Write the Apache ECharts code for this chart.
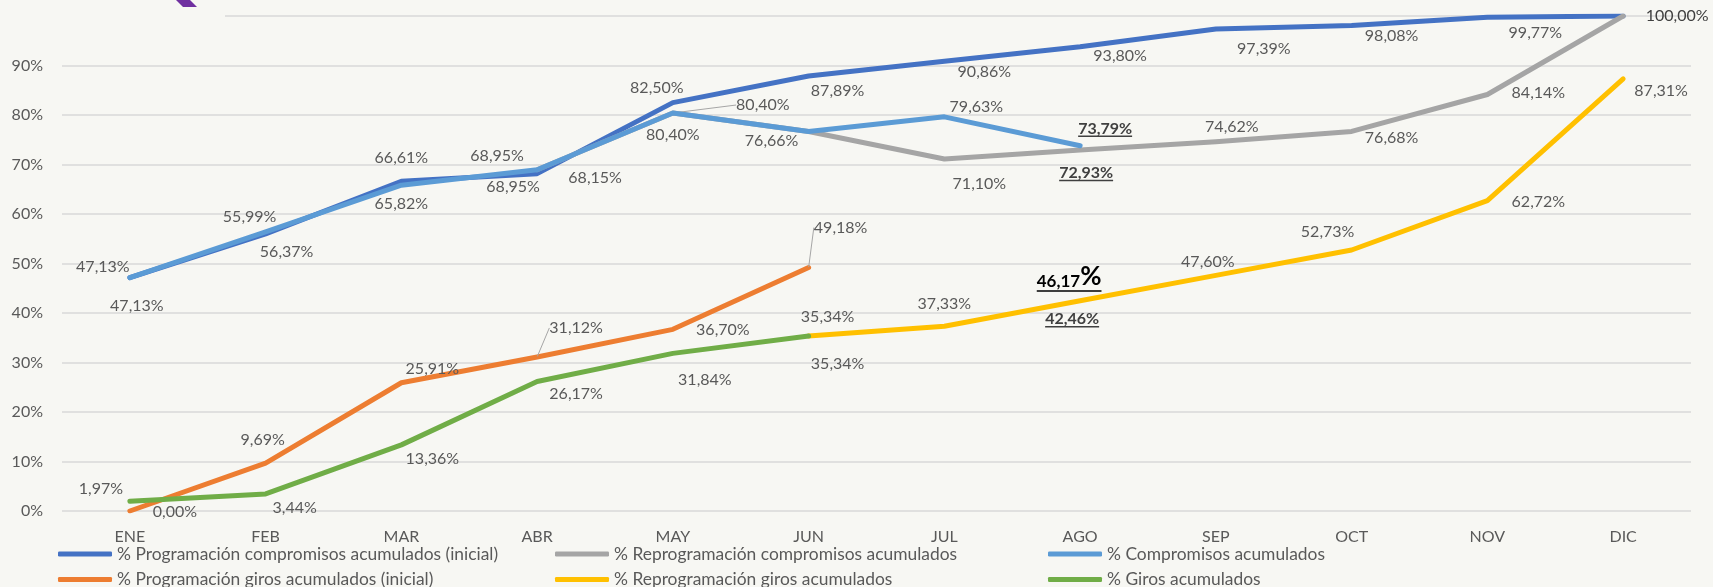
<!DOCTYPE html>
<html><head><meta charset="utf-8">
<script src="https://cdn.jsdelivr.net/npm/echarts@6/dist/echarts.min.js"></script>
<style>html,body{margin:0;padding:0;background:#F7F7F3}#c{width:1713px;height:587px}</style>
</head><body><div id="c"></div>
<script>
// ---------- DATA ----------
const months = ['ENE','FEB','MAR','ABR','MAY','JUN','JUL','AGO','SEP','OCT','NOV','DIC'];
const seriesNames = [
  '% Programación compromisos acumulados (inicial)',
  '% Reprogramación compromisos acumulados',
  '% Compromisos acumulados',
  '% Programación giros acumulados (inicial)',
  '% Reprogramación giros acumulados',
  '% Giros acumulados'
];
const progCompromisos   = [47.13, 55.99, 66.61, 68.15, 82.50, 87.89, 90.86, 93.80, 97.39, 98.08, 99.77, 100.00];
const reprogCompromisos = [null, null, null, 68.95, 80.40, 76.66, 71.10, 72.93, 74.62, 76.68, 84.14, 100.00];
const compromisos       = [47.13, 56.37, 65.82, 68.95, 80.40, 76.66, 79.63, 73.79, null, null, null, null];
const progGiros         = [0.00, 9.69, 25.91, 31.12, 36.70, 49.18, null, null, null, null, null, null];
const reprogGiros       = [null, null, null, null, null, 35.34, 37.33, 42.46, 47.60, 52.73, 62.72, 87.31];
const giros             = [1.97, 3.44, 13.36, 26.17, 31.84, 35.34, null, null, null, null, null, null];
const annotationMonth = 'AGO';
const annotationValue = 46.17;
const yMin = 0, yMax = 100, yStep = 10;

// ---------- LABEL PLACEMENT (style, offsets of label centre from point) ----------
const labelOffsets = [
  [[-27,-11],[-16,-17],[0,-23],[58,4],[-16,-15],[29,15],[40,11],[40,9],[48,20],[40,10.5],[48,16],null],
  [null,null,null,[-24,17],[90,-8],null,[35,25],[6,23],[16,-15],[40,6],[51,-2],[54,0]],
  [[7,28],[21,20],[0,19],[-40,-14],[0,22],[-37,9],[32,-9.5],[25,-17],null,null,null,null],
  [[45,1],[-3,-23],[31,-14],[39,-29],[50,1],[32,-40],null,null,null,null,null,null],
  [null,null,null,null,null,[19,-19],[0,-22],[-8,18.5],[-8,-14],[-24,-18],[51,1],[38,12]],
  [[-29,-12],[29,14],[31,14],[39,12],[32,26],[29,28],null,null,null,null,null,null]
];
const boldLabels = {1:[7], 2:[7], 4:[7]};
const leaderLabels = {1:[4], 3:[3,5]};
const darkLabels = {1:[11]};
const colors = ['#4472C4','#A5A5A5','#5B9BD5','#ED7D31','#FFC000','#70AD47'];
const allValues = [progCompromisos, reprogCompromisos, compromisos, progGiros, reprogGiros, giros];

const FONT = 'Lato';
const TXT = '#595959';
const cv = document.createElement('canvas').getContext('2d');
function tw(s, font){ cv.font = font; return cv.measureText(s).width; }
function fmt(v){ return v.toFixed(2).replace('.', ',') + '%'; }

function buildItems(si){
  const vals = allValues[si], offs = labelOffsets[si];
  return vals.map((v,i)=>{
    if (v == null) return null;
    const it = {value: v};
    const o = offs[i];
    if (!o) { it.label = {show:false}; return it; }
    if ((boldLabels[si]||[]).includes(i)) {
      const s = fmt(v);
      const w = tw(s, 'bold 16px ' + FONT);
      it.label = {
        formatter: '{t|' + s + '}\n{u|}',
        rich: {
          t: {fontWeight:'bold', fontSize:16, fontFamily:FONT, color:'#404040', lineHeight:13},
          u: {width:w, height:1.5, lineHeight:2, backgroundColor:'#404040'}
        }
      };
    }
    if ((darkLabels[si]||[]).includes(i)) it.label = {color:'#404040'};
    if ((leaderLabels[si]||[]).includes(i)) it.labelLine = {show:true};
    return it;
  });
}

function labelLayoutFor(si){
  return function(p){
    const o = labelOffsets[si][p.dataIndex];
    if (!o) return {};
    let dy = o[1];
    if ((boldLabels[si]||[]).includes(p.dataIndex)) dy += 1;
    return {dx:o[0], dy:dy};
  };
}

const series = allValues.map((vals, si)=>({
  name: seriesNames[si],
  type: 'line',
  data: buildItems(si),
  symbol: 'circle',
  symbolSize: 1,
  showSymbol: true,
  connectNulls: false,
  color: colors[si],
  itemStyle: {color: colors[si]},
  lineStyle: {width: 5, color: colors[si], cap: 'round', join: 'round'},
  label: {show:true, position:'inside', color:TXT, fontFamily:FONT, fontSize:16,
          formatter: p => fmt(p.value)},
  labelLine: {show:false, lineStyle:{color:'#A6A6A6', width:1}},
  labelLayout: labelLayoutFor(si),
  z: 2 + si,
  emphasis: {disabled:true}
}));

// annotation "46,17%"
(function(){
  const a = fmt(annotationValue).replace('%','');
  const w = tw(a, 'bold 17px ' + FONT) + tw('%', 'bold 26px ' + FONT);
  series[4].markPoint = {
    symbol: 'circle', symbolSize: 0, silent: true,
    data: [{coord:[annotationMonth, annotationValue]}],
    label: {
      show: true, position: 'inside', offset: [-11, -1.5],
      formatter: '{a|' + a + '}{b|%}\n{u|}',
      rich: {
        a: {fontWeight:'bold', fontSize:17, fontFamily:FONT, color:'#000', lineHeight:20, verticalAlign:'bottom'},
        b: {fontWeight:'bold', fontSize:26, fontFamily:FONT, color:'#000', lineHeight:20, verticalAlign:'bottom'},
        u: {width:w, height:1.5, lineHeight:2, backgroundColor:'#000'}
      }
    }
  };
})();

const legendCommon = {
  orient: 'vertical', top: 544, height: 60, itemGap: 5.5, itemWidth: 54, itemHeight: 5,
  icon: 'roundRect', selectedMode: false, padding: 0,
  textStyle: {fontFamily: FONT, fontSize: 17.4, color: TXT, lineHeight: 20}
};

const chart = echarts.init(document.getElementById('c'), null, {renderer:'canvas'});
chart.setOption({
  backgroundColor: '#F7F7F3',
  animation: false,
  grid: {left: 62, right: 22, top: 16, bottom: 76, containLabel: false, outerBoundsMode: 'none'},
  xAxis: {
    type: 'category', data: months, boundaryGap: true,
    axisLine: {show:false}, axisTick: {show:false},
    axisLabel: {color: TXT, fontFamily: FONT, fontSize: 16, margin: 18}
  },
  yAxis: {
    type: 'value', min: yMin, max: yMax, interval: yStep,
    axisLine: {show:false}, axisTick: {show:false},
    axisLabel: {formatter: '{value}%', color: TXT, fontFamily: FONT, fontSize: 16, margin: 19},
    splitLine: {show:true, lineStyle: {color: '#D9D9D9', width: 1.5}}
  },
  legend: [
    Object.assign({}, legendCommon, {left: 58,   data: [seriesNames[0], seriesNames[3]]}),
    Object.assign({}, legendCommon, {left: 555,  data: [seriesNames[1], seriesNames[4]]}),
    Object.assign({}, legendCommon, {left: 1048, data: [seriesNames[2], seriesNames[5]]})
  ],
  graphic: [
    {type:'rect', left:0, top:0, shape:{width:225, height:26}, style:{fill:'#F7F7F3'}, z:100, silent:true},
    {type:'polygon', shape:{points:[[176,0],[190,0],[197,7],[183,7]]}, style:{fill:'#7030A0'}, z:101, silent:true}
  ],
  series: series
});
</script>
</body></html>
